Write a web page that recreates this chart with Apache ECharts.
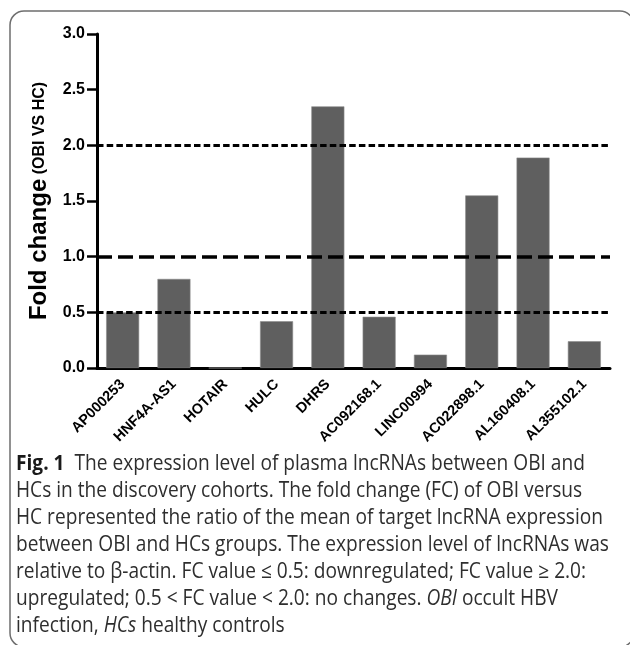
<!DOCTYPE html>
<html>
<head>
<meta charset="utf-8">
<script src="https://cdn.jsdelivr.net/npm/echarts@6.0.0/dist/echarts.min.js"></script>
<style>
  html, body { margin: 0; padding: 0; background: #fff; }
  #main { width: 630px; height: 645px; }
</style>
</head>
<body>
<div id="main"></div>
<script>
// lncRNA 名称 / fold change (OBI vs HC)
var categories = ['AP000253', 'HNF4A-AS1', 'HOTAIR', 'HULC', 'DHRS', 'AC092168.1',
    'LINC00994', 'AC022898.1', 'AL160408.1', 'AL355102.1'];
var foldChange = [0.50, 0.80, 0, 0.42, 2.35, 0.46, 0.12, 1.55, 1.89, 0.24];
var dottedCutoffs = [0.5, 2.0];   // 下调 / 上调阈值
var dashedCutoffs = [1.0];        // 无变化
var yMin = 0, yMax = 3, yStep = 0.5;

var captionLines = [
    '{b|Fig. 1}  The expression level of plasma lncRNAs between OBI and',
    'HCs in the discovery cohorts. The fold change (FC) of OBI versus',
    'HC represented the ratio of the mean of target lncRNA expression',
    'between OBI and HCs groups. The expression level of lncRNAs was',
    'relative to \u03b2-actin. FC value \u2264 0.5: downregulated; FC value \u2265 2.0:',
    'upregulated; 0.5 < FC value < 2.0: no changes. {i|OBI} occult HBV',
    'infection, {i|HCs} healthy controls'
];

var axisFont = '"Liberation Sans", Arial, sans-serif';
var capFont = '"Open Sans", "Noto Sans", sans-serif';
var capSize = 21;
var capColor = '#2e2e2e';

// 用第三行（最长）算横向压缩比例，模拟窄体字
var ctx = document.createElement('canvas').getContext('2d');
ctx.font = capSize + 'px ' + capFont;
var capScale = 587 / ctx.measureText(captionLines[2]).width;

var graphics = [{
    // 圆角边框（右侧和底部在画布外）
    type: 'rect',
    shape: { x: 10, y: 11, width: 624, height: 636, r: 14 },
    style: { fill: null, stroke: '#6e6e6e', lineWidth: 1.5 },
    silent: true
}];
captionLines.forEach(function (t, i) {
    graphics.push({
        type: 'text',
        x: 16,
        y: 464 + 27 * i,
        scaleX: capScale,
        style: {
            text: t,
            fontSize: capSize,
            fontFamily: capFont,
            fill: capColor,
            verticalAlign: 'middle',
            rich: {
                b: { fontSize: capSize, fontFamily: capFont, fontWeight: 'bold', fill: '#1a1a1a' },
                i: { fontSize: capSize, fontFamily: capFont, fontStyle: 'italic', fill: capColor }
            }
        }
    });
});

var myChart = echarts.init(document.getElementById('main'));

myChart.setOption({
    animation: false,
    backgroundColor: '#fff',
    grid: { left: 97, right: 20, top: 34, bottom: 277, containLabel: false, outerBoundsMode: 'none' },
    xAxis: {
        type: 'category',
        data: categories,
        axisLine: { lineStyle: { color: '#000', width: 3 } },
        axisTick: { show: false },
        axisLabel: {
            interval: 0,
            rotate: 45,
            margin: 14,
            color: '#000',
            fontFamily: axisFont,
            fontWeight: 'bold',
            fontSize: 14.5
        }
    },
    yAxis: {
        type: 'value',
        min: yMin,
        max: yMax,
        interval: yStep,
        splitLine: { show: false },
        axisLine: { show: true, lineStyle: { color: '#000', width: 3 } },
        axisTick: { show: true, length: 10, lineStyle: { color: '#000', width: 2.5 } },
        axisLabel: {
            margin: 12,
            color: '#000',
            fontFamily: axisFont,
            fontWeight: 'bold',
            fontSize: 16,
            formatter: function (v) { return v.toFixed(1); }
        },
        name: '{a|Fold change}{b| (OBI VS HC)}',
        nameLocation: 'middle',
        nameRotate: 90,
        nameGap: 37,
        nameTextStyle: {
            rich: {
                a: { fontSize: 24, fontWeight: 'bold', fontFamily: axisFont, color: '#000' },
                b: { fontSize: 16, fontWeight: 'bold', fontFamily: axisFont, color: '#000' }
            }
        }
    },
    series: [{
        // 阈值线放在柱子后面
        type: 'line',
        data: [],
        z: 1,
        silent: true,
        markLine: {
            symbol: 'none',
            silent: true,
            label: { show: false },
            data: dottedCutoffs.map(function (v) {
                return { yAxis: v, lineStyle: { color: '#000', width: 3, type: [6.5, 3.2] } };
            }).concat(dashedCutoffs.map(function (v) {
                return { yAxis: v, lineStyle: { color: '#000', width: 3.5, type: [15, 6] } };
            }))
        }
    }, {
        type: 'bar',
        z: 2,
        data: foldChange,
        barWidth: 33,
        itemStyle: { color: '#5f5f5f', borderColor: '#8c8c8c', borderWidth: 0.6 }
    }],
    graphic: graphics
});
</script>
</body>
</html>
